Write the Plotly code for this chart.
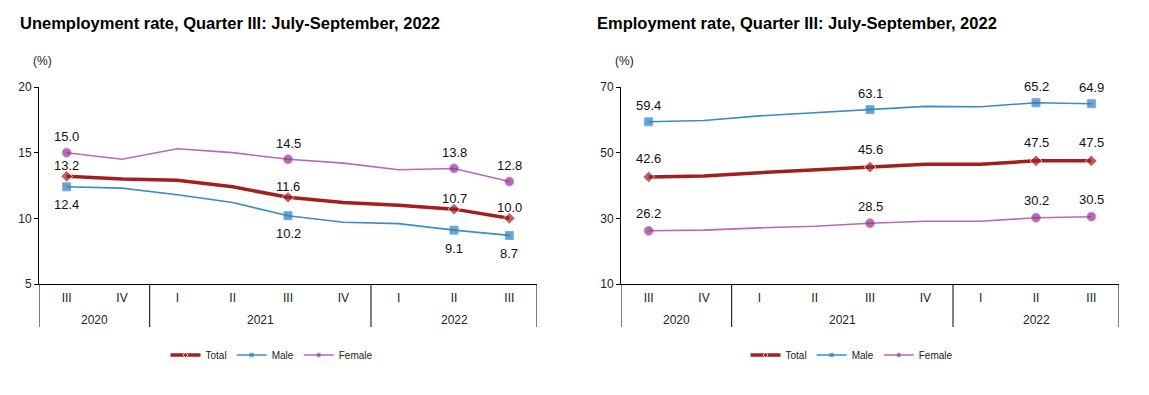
import plotly.graph_objects as go

quarters = ["III", "IV", "I", "II", "III", "IV", "I", "II", "III"]
years = ["2020", "2021", "2022"]
year_centers = [0.5, 3.5, 7.0]
year_bounds = [-0.5, 1.5, 5.5, 8.5]
labeled_idx = [0, 4, 7, 8]

unemp_total = [13.2, 13.0, 12.9, 12.4, 11.6, 11.2, 11.0, 10.7, 10.0]
unemp_male = [12.4, 12.3, 11.8, 11.2, 10.2, 9.7, 9.6, 9.1, 8.7]
unemp_female = [15.0, 14.5, 15.3, 15.0, 14.5, 14.2, 13.7, 13.8, 12.8]

emp_total = [42.6, 42.9, 43.9, 44.7, 45.6, 46.5, 46.5, 47.5, 47.5]
emp_male = [59.4, 59.8, 61.2, 62.2, 63.1, 64.1, 64.0, 65.2, 64.9]
emp_female = [26.2, 26.4, 27.1, 27.6, 28.5, 29.1, 29.1, 30.2, 30.5]

titles = ["Unemployment rate, Quarter III: July-September, 2022",
          "Employment rate, Quarter III: July-September, 2022"]
FONT = "Liberation Sans, Arial, sans-serif"

styles = {
    "Total": dict(color="#A31F1F", width=3.5, symbol="diamond", msize=9),
    "Male": dict(color="#3B8CC4", width=1.6, symbol="square", msize=8, mcolor="#2E7BC0"),
    "Female": dict(color="#B36BB5", width=1.6, symbol="circle", msize=9, mcolor="#952E8C"),
}

fig = go.Figure()
x = list(range(len(quarters)))

def add_series(name, vals, xa, ya, legend, shifts):
    st = styles[name]
    sizes = [st["msize"] if i in labeled_idx else 0 for i in x]
    fig.add_trace(go.Scatter(
        x=x, y=vals, name=name, mode="lines+markers",
        line=dict(color=st["color"], width=st["width"]),
        marker=dict(symbol=st["symbol"], size=sizes, color=st.get("mcolor", st["color"])),
        xaxis=xa, yaxis=ya, legend=legend, showlegend=True))
    for i in labeled_idx:
        fig.add_annotation(x=i, y=vals[i], xref=xa, yref=ya, text=f"{vals[i]:.1f}",
                           xanchor="center", yanchor="middle",
                           showarrow=False, yshift=shifts, font=dict(family=FONT, size=13, color="#111"))

add_series("Total", unemp_total, "x", "y", "legend", 11)
add_series("Male", unemp_male, "x", "y", "legend", -18)
add_series("Female", unemp_female, "x", "y", "legend", 16)
add_series("Total", emp_total, "x2", "y2", "legend2", 18)
add_series("Male", emp_male, "x2", "y2", "legend2", 16)
add_series("Female", emp_female, "x2", "y2", "legend2", 17)

W, H = 1149, 395
ydom = [1 - 284 / H, 1 - 87 / H]
xdoms = [[39 / W, 537 / W], [621 / W, 1119 / W]]
ranges = [[5, 20], [10, 70]]
dticks = [5, 20]

axcommon = dict(showgrid=False, zeroline=False, showline=True, linecolor="black", linewidth=1)
for k in range(2):
    sfx = "" if k == 0 else "2"
    fig.update_layout(**{
        f"xaxis{sfx}": dict(domain=xdoms[k], range=[-0.5, 8.5], tickmode="array", tickvals=x,
                            ticktext=quarters, ticks="", anchor=f"y{sfx}", ticklabelstandoff=3,
                            tickfont=dict(family=FONT, size=12, color="#222"), **axcommon),
        f"yaxis{sfx}": dict(domain=ydom, range=ranges[k], dtick=dticks[k], tick0=ranges[k][0],
                            anchor=f"x{sfx}", ticks="outside", ticklen=4, tickcolor="black",
                            tickfont=dict(family=FONT, size=12, color="#222"), **axcommon),
    })
    xr = "x" + sfx
    for b in year_bounds:
        fig.add_shape(type="line", xref=xr, yref="paper", x0=b, x1=b,
                      y0=1 - 327 / H, y1=ydom[0], line=dict(color="black", width=1))
    for yc, yt in zip(year_centers, years):
        fig.add_annotation(x=yc, y=1 - 320 / H, xref=xr, yref="paper", text=yt, showarrow=False,
                           xanchor="center", yanchor="middle",
                           font=dict(family=FONT, size=12, color="#222"))
    fig.add_annotation(x=[18, 595][k] / W, y=1 - 23 / H, xref="paper", yref="paper",
                       xanchor="left", yanchor="middle", text=f"<b>{titles[k]}</b>", showarrow=False,
                       font=dict(family=FONT, size=16.5, color="black"))
    fig.add_annotation(x=[42, 624][k] / W, y=1 - 61 / H, xref="paper", yref="paper",
                       xanchor="center", yanchor="middle",
                       text="(%)", showarrow=False, font=dict(family=FONT, size=12, color="#222"))

legcommon = dict(orientation="h", xanchor="center", yanchor="middle", y=1 - 355 / H,
                 font=dict(family=FONT, size=10, color="#222"), bgcolor="rgba(0,0,0,0)",
                 itemwidth=30, tracegroupgap=0)
fig.update_layout(
    width=W, height=H, margin=dict(l=0, r=0, t=0, b=0, autoexpand=False),
    plot_bgcolor="white", paper_bgcolor="white",
    legend=dict(x=272 / W, **legcommon),
    legend2=dict(x=852 / W, **legcommon),
)

fig.write_html("out.html", config={"displayModeBar": False},
               post_script="document.body.style.margin='0px';")
